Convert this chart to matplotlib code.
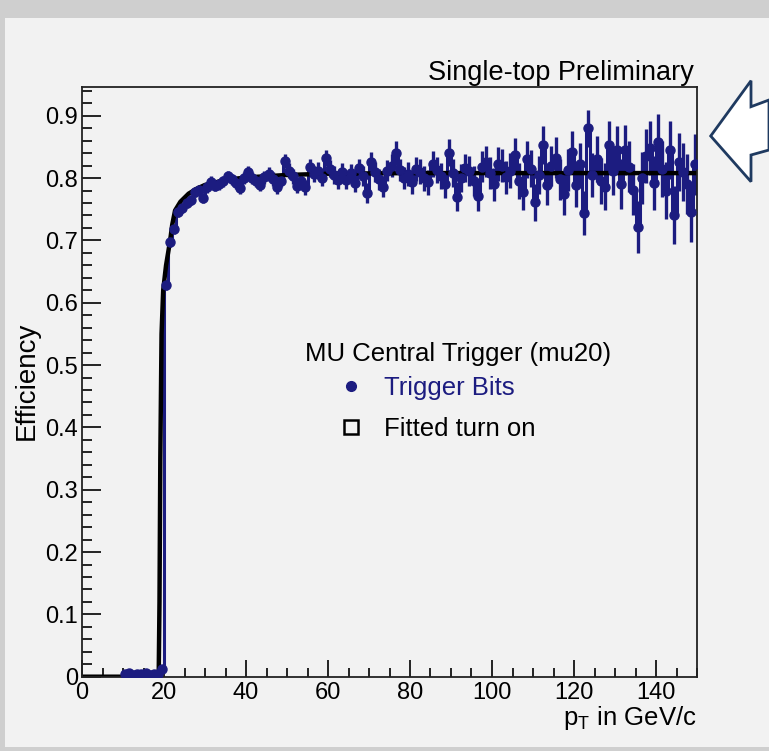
import matplotlib
matplotlib.use("Agg")
import matplotlib.pyplot as plt
import matplotlib.patches as mpatches
from matplotlib.lines import Line2D
from matplotlib.ticker import MultipleLocator
import numpy as np

plt.rcParams['font.family'] = ['Liberation Sans', 'DejaVu Sans']

# 1 GeV bins from 0 to 150 GeV/c
bin_edges = np.arange(0, 151, 1)

# trigger efficiency per bin
eff = [
    0, 0, 0, 0, 0, 0, 0, 0, 0, 0,
    0.004, 0.006, 0.003, 0.005, 0.004, 0.006, 0.003, 0.005, 0.004, 0.012,
    0.628, 0.697, 0.718, 0.745, 0.752, 0.760, 0.765, 0.778, 0.781, 0.768,
    0.785, 0.794, 0.788, 0.790, 0.795, 0.803, 0.798, 0.792, 0.784, 0.800,
    0.810, 0.800, 0.795, 0.789, 0.801, 0.806, 0.799, 0.786, 0.796, 0.827,
    0.812, 0.803, 0.788, 0.795, 0.785, 0.818, 0.806, 0.812, 0.800, 0.832,
    0.815, 0.805, 0.797, 0.810, 0.797, 0.808, 0.792, 0.816, 0.803, 0.776,
    0.826, 0.810, 0.798, 0.786, 0.812, 0.820, 0.841, 0.813, 0.800, 0.806,
    0.793, 0.815, 0.810, 0.800, 0.793, 0.822, 0.813, 0.803, 0.790, 0.841,
    0.808, 0.770, 0.800, 0.816, 0.812, 0.795, 0.772, 0.818, 0.826, 0.808,
    0.790, 0.823, 0.820, 0.801, 0.812, 0.837, 0.795, 0.777, 0.830, 0.815,
    0.761, 0.805, 0.853, 0.789, 0.820, 0.833, 0.798, 0.775, 0.813, 0.842,
    0.789, 0.822, 0.744, 0.880, 0.805, 0.830, 0.795, 0.786, 0.853, 0.812,
    0.845, 0.790, 0.845, 0.818, 0.781, 0.722, 0.800, 0.835, 0.848, 0.792,
    0.858, 0.815, 0.780, 0.845, 0.741, 0.826, 0.810, 0.790, 0.745, 0.822,
]

# statistical error per bin
err = [
    0, 0, 0, 0, 0, 0, 0, 0, 0, 0,
    0.003, 0.003, 0.003, 0.003, 0.003, 0.003, 0.003, 0.003, 0.003, 0.004,
    0.008, 0.008, 0.008, 0.008, 0.008, 0.008, 0.008, 0.008, 0.008, 0.008,
    0.009, 0.009, 0.009, 0.009, 0.009, 0.009, 0.009, 0.009, 0.009, 0.009,
    0.010, 0.010, 0.010, 0.010, 0.011, 0.011, 0.011, 0.011, 0.011, 0.011,
    0.012, 0.012, 0.012, 0.012, 0.012, 0.013, 0.013, 0.013, 0.013, 0.013,
    0.014, 0.014, 0.014, 0.014, 0.015, 0.015, 0.015, 0.015, 0.016, 0.016,
    0.016, 0.016, 0.017, 0.017, 0.017, 0.018, 0.018, 0.018, 0.018, 0.019,
    0.019, 0.019, 0.020, 0.020, 0.020, 0.021, 0.021, 0.021, 0.022, 0.022,
    0.022, 0.023, 0.023, 0.023, 0.024, 0.024, 0.025, 0.025, 0.025, 0.026,
    0.026, 0.027, 0.027, 0.027, 0.028, 0.028, 0.029, 0.029, 0.030, 0.030,
    0.030, 0.031, 0.031, 0.032, 0.032, 0.033, 0.033, 0.034, 0.034, 0.034,
    0.035, 0.035, 0.036, 0.030, 0.036, 0.037, 0.037, 0.038, 0.038, 0.039,
    0.039, 0.040, 0.040, 0.041, 0.041, 0.042, 0.042, 0.043, 0.043, 0.044,
    0.044, 0.045, 0.045, 0.046, 0.046, 0.047, 0.047, 0.048, 0.048, 0.049,
]

# fitted turn-on curve
fit_pt = [0, 18.7, 18.9, 19.1, 19.4, 19.8, 20.5, 21, 21.5, 22, 22.7, 24, 26, 28, 30, 35, 40, 50, 60, 80, 150]
fit_eff = [0, 0, 0.12, 0.35, 0.55, 0.62, 0.66, 0.68, 0.70, 0.725, 0.748, 0.762, 0.775, 0.783,
           0.789, 0.797, 0.801, 0.805, 0.807, 0.808, 0.808]

navy = '#1c1c80'
bg = '#f2f2f2'
W, H = 769, 751

fig = plt.figure(figsize=(W / 100, H / 100), dpi=100)
fig.patch.set_facecolor('#cfcfcf')
# inner canvas, kept behind the axes
fig.patches.append(mpatches.Rectangle((5 / W, 1 - 747 / H), (W - 5) / W, (747 - 18) / H,
                                      transform=fig.transFigure, facecolor=bg,
                                      edgecolor='none', zorder=-10))

ax = fig.add_axes([82 / W, 1 - 676.7 / H, 615 / W, 590 / H])
ax.set_facecolor(bg)

eff = np.array(eff)
err = np.array(err)
centers = 0.5 * (bin_edges[:-1] + bin_edges[1:])
filled = centers >= 10

ax.stairs(eff, bin_edges, color=navy, lw=2.2, baseline=None, zorder=2)
pts, caps, bars = ax.errorbar(centers[filled], eff[filled], yerr=err[filled], xerr=0.5,
                              fmt='o', color=navy, ms=6.5, elinewidth=2.4, capsize=0)
for b in bars:
    b.set_zorder(2.2)
pts.set_zorder(3)
# fit line sits over the bars but under the markers
ax.plot(fit_pt, fit_eff, color='black', lw=3.2, zorder=2.5)

ax.set_xlim(0, 150)
ax.set_ylim(0, 0.9466)
ax.xaxis.set_major_locator(MultipleLocator(20))
ax.xaxis.set_minor_locator(MultipleLocator(5))
ax.yaxis.set_major_locator(MultipleLocator(0.1))
ax.yaxis.set_minor_locator(MultipleLocator(0.02))
ax.yaxis.set_major_formatter(lambda v, p: f'{v:g}')
ax.tick_params(which='both', direction='in', top=False, right=False, width=1.2,
               labelsize=17, colors='black')
ax.tick_params(axis='y', which='major', length=14, pad=3)
ax.tick_params(axis='y', which='minor', length=7.5)
ax.tick_params(axis='x', which='major', length=12.5, pad=4)
ax.tick_params(axis='x', which='minor', length=6.5)
for s in ax.spines.values():
    s.set_linewidth(1.3)
    s.set_color('#222222')

# texts
fig.text(694 / W, 1 - 80 / H, 'Single-top Preliminary', ha='right', va='baseline', fontsize=19.5)
fig.text(697 / W, 1 - 718 / H, 'p$_\\mathregular{T}$ in GeV/c', ha='right', va='center', fontsize=18.5)
fig.text(27 / W, 1 - 381 / H, 'Efficiency', rotation=90, ha='center', va='center', fontsize=20)

# legend
ax.text((305 - 82) / 615, (676.7 - 354) / 590, 'MU Central Trigger (mu20)',
        transform=ax.transAxes, ha='left', va='center', fontsize=18.5)
handles = [
    Line2D([], [], ls='none', marker='o', ms=7, color=navy),
    Line2D([], [], ls='none', marker='s', ms=10, mfc='none', mec='black', mew=1.8),
]
ax.legend(handles, ['Trigger Bits', 'Fitted turn on'], loc='upper left',
          bbox_to_anchor=((338 - 82) / 615, (676.7 - 376) / 590), frameon=False,
          fontsize=18.5, handlelength=1.0, handletextpad=0.8, labelspacing=0.68,
          borderpad=0, borderaxespad=0, labelcolor=[navy, 'black'])

# callout arrow on the right
arrow_px = [(710.7, 136), (751, 80.7), (751, 106.7), (769, 100), (769, 150),
            (751, 155), (751, 181.7)]
fig.patches.append(mpatches.Polygon([(x / W, 1 - y / H) for x, y in arrow_px],
                                    closed=True, transform=fig.transFigure,
                                    facecolor='white', edgecolor='#1f3a60', lw=2, zorder=5))

fig.savefig('out.png', dpi=100, facecolor=fig.get_facecolor())
